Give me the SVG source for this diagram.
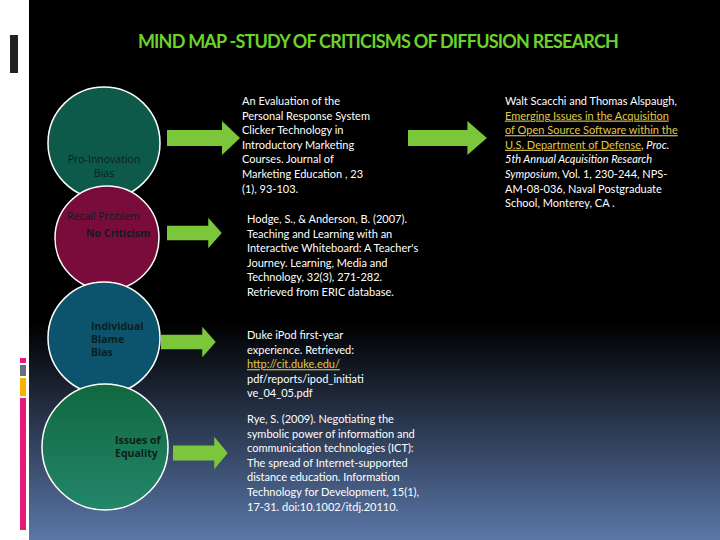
<svg xmlns="http://www.w3.org/2000/svg" width="720" height="540" viewBox="0 0 720 540">
<defs>
<linearGradient id="bg" x1="0" y1="0" x2="0" y2="1">
<stop offset="0" stop-color="#000"/><stop offset="0.6" stop-color="#000"/><stop offset="1" stop-color="#5a77a8"/>
</linearGradient>
<linearGradient id="g4" x1="0" y1="0" x2="0" y2="1"><stop offset="0" stop-color="#10683f"/><stop offset="1" stop-color="#23866a"/></linearGradient>
<path id="arr" d="M0,-8 H55 V-17 L73,0 L55,17 V8 H0 Z"/>
</defs>
<style>
.t{font-family:Lato,"Open Sans",sans-serif;font-size:11px;fill:#fff}
.c{stroke:#fff;stroke-width:1.5}
.a{fill:#7cc63c}
.l{font-family:"Open Sans",sans-serif;font-size:10.5px;fill:#0b1e1c}
.u{fill:#e0c94a;text-decoration:underline}
</style>
<rect width="720" height="540" fill="url(#bg)"/>
<rect width="29" height="540" fill="#fff"/>
<rect x="10" y="35" width="8" height="38" fill="#222"/>
<rect x="20" y="358" width="6" height="5" fill="#e6197a"/>
<rect x="20" y="365" width="6" height="11" fill="#66707a"/>
<rect x="20" y="378" width="6" height="18" fill="#f4b400"/>
<rect x="20" y="398" width="6" height="132" fill="#e6197a"/>
<text x="378" y="48" text-anchor="middle" font-family="Lato,sans-serif" font-size="18" font-weight="bold" fill="#6bd22a" letter-spacing="-0.8">MIND MAP -STUDY OF CRITICISMS OF DIFFUSION RESEARCH</text>
<g id="n1"><circle class="c" cx="104" cy="143" r="56" fill="#0d5a4a"/><text class="l" font-size="11.5" text-anchor="middle" x="104" y="163">Pro-Innovation</text><text class="l" font-size="11.5" text-anchor="middle" x="104" y="177">Bias</text></g>
<g id="n2"><circle class="c" cx="107" cy="238" r="52" fill="#7a0c3c"/><text class="l" font-size="11.5" x="67" y="220" fill="#2a0010">Recall Problem</text><text class="l" font-weight="bold" x="86" y="237" fill="#1a0008">No  Criticism</text></g>
<g id="n3"><circle class="c" cx="104" cy="338" r="56" fill="#0c536e"/><text class="l" font-size="9" font-weight="bold" x="91" y="330">Individual</text><text class="l" font-size="9" font-weight="bold" x="91" y="343">Blame</text><text class="l" font-size="9" font-weight="bold" x="91" y="356">Bias</text></g>
<g id="n4"><circle class="c" cx="105" cy="447" r="63" fill="url(#g4)"/><text class="l" font-size="9" font-weight="bold" x="115" y="444">Issues of</text><text class="l" font-size="9" font-weight="bold" x="115" y="457">Equality</text></g>
<g id="connectors">
<use href="#arr" class="a" transform="translate(167,138)"/>
<use href="#arr" class="a" transform="translate(408,138) scale(1.08,1)"/>
<use href="#arr" class="a" transform="translate(167,233) scale(0.75,0.9)"/>
<use href="#arr" class="a" transform="translate(161,342) scale(0.75,0.9)"/>
<use href="#arr" class="a" transform="translate(173,453) scale(0.75,0.95)"/>
</g>
<g id="ref1" class="t"><text x="242" y="105">An Evaluation of the</text><text x="242" y="119.6">Personal Response System</text><text x="242" y="134.2">Clicker Technology in</text><text x="242" y="148.8">Introductory Marketing</text><text x="242" y="163.4">Courses. Journal of</text><text x="242" y="178">Marketing Education , 23</text><text x="242" y="192.6">(1), 93-103.</text></g>
<g id="ref2" class="t"><text x="247" y="223">Hodge, S., &amp; Anderson, B. (2007).</text><text x="247" y="237.6">Teaching and Learning with an</text><text x="247" y="252.2">Interactive Whiteboard: A Teacher's</text><text x="247" y="266.8">Journey. Learning, Media and</text><text x="247" y="281.4">Technology, 32(3), 271-282.</text><text x="247" y="296">Retrieved from ERIC database.</text></g>
<g id="ref3" class="t"><text x="247" y="339">Duke iPod first-year</text><text x="247" y="353.6">experience. Retrieved:</text><text x="247" y="368.2" class="u">http://cit.duke.edu/</text><text x="247" y="382.8">pdf/reports/ipod_initiati</text><text x="247" y="397.4">ve_04_05.pdf</text></g>
<g id="ref4" class="t"><text x="247" y="423">Rye, S. (2009). Negotiating the</text><text x="247" y="437.6">symbolic power of information and</text><text x="247" y="452.2">communication technologies (ICT):</text><text x="247" y="466.8">The spread of Internet-supported</text><text x="247" y="481.4">distance education. Information</text><text x="247" y="496">Technology for Development, 15(1),</text><text x="247" y="510.6">17-31. doi:10.1002/itdj.20110.</text></g>
<g id="ref5" class="t"><text x="505" y="105">Walt Scacchi and Thomas Alspaugh,</text><text x="505" y="119.6" class="u">Emerging Issues in the Acquisition</text><text x="505" y="134.2" class="u">of Open Source Software within the</text><text x="505" y="148.8"><tspan class="u">U.S. Department of Defense</tspan>, <tspan font-style="italic">Proc.</tspan></text><text x="505" y="163.4" font-style="italic">5th Annual Acquisition Research</text><text x="505" y="178"><tspan font-style="italic">Symposium</tspan>, Vol. 1, 230-244, NPS-</text><text x="505" y="192.6">AM-08-036, Naval Postgraduate</text><text x="505" y="207.2">School, Monterey, CA .</text></g>
</svg>
